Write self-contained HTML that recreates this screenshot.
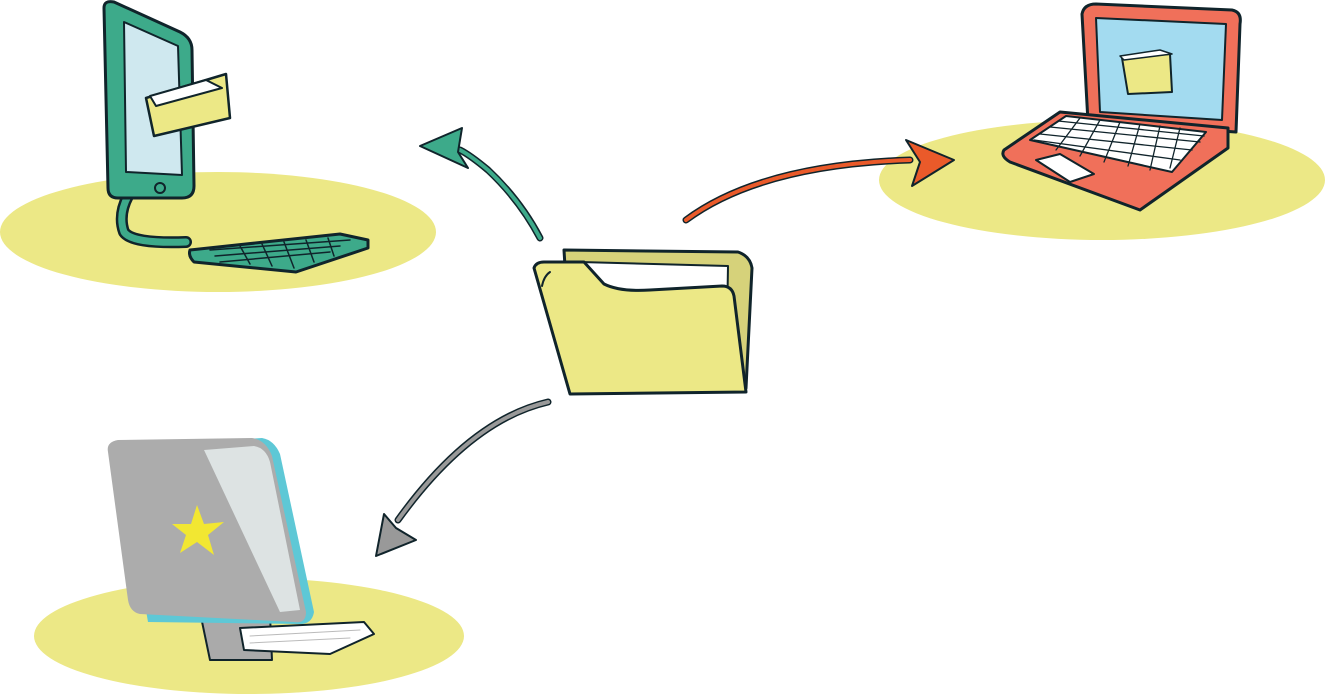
<!DOCTYPE html>
<html><head><meta charset="utf-8"><style>
html,body{margin:0;padding:0;background:#fff;width:1325px;height:695px;overflow:hidden}
svg{display:block}
</style></head><body>
<svg width="1325" height="695" viewBox="0 0 1325 695" xmlns="http://www.w3.org/2000/svg">
<g stroke-linejoin="round" stroke-linecap="round">
<ellipse cx="218" cy="232" rx="218" ry="60" fill="#ece886"/>
<ellipse cx="1102" cy="180" rx="223" ry="60" fill="#ece886"/>
<ellipse cx="249" cy="636" rx="215" ry="58" fill="#ece886"/>

<!-- green monitor stand (curved pole) -->
<path d="M128 196 Q118 215 124 232 Q132 244 186 242" fill="none" stroke="#10242b" stroke-width="12"/>
<path d="M128 196 Q118 215 124 232 Q132 244 186 242" fill="none" stroke="#3daa8a" stroke-width="7"/>
<path d="M190 250 L340 234 L368 240 L368 248 L296 272 L194 262 Q188 256 190 250 Z" fill="#3daa8a" stroke="#10242b" stroke-width="3"/>
<g stroke="#10242b" stroke-width="1.5">
<line x1="210" y1="250" x2="350" y2="240"/><line x1="215" y1="256" x2="340" y2="246"/><line x1="220" y1="262" x2="330" y2="252"/>
<line x1="240" y1="246" x2="250" y2="264"/><line x1="262" y1="244" x2="272" y2="266"/><line x1="284" y1="242" x2="294" y2="268"/><line x1="306" y1="240" x2="314" y2="262"/><line x1="328" y1="238" x2="334" y2="256"/>
</g>
<path d="M104 8 Q104 0 114 2 L180 32 Q192 38 192 50 L194 186 Q194 198 182 198 L118 198 Q108 198 108 188 Z" fill="#3daa8a" stroke="#10242b" stroke-width="3"/>
<path d="M124 22 L178 46 L182 175 L126 172 Z" fill="#cfe8ef" stroke="#10242b" stroke-width="2"/>
<circle cx="160" cy="188" r="5" fill="none" stroke="#10242b" stroke-width="2"/>
<path d="M146 98 L226 74 L230 118 L154 136 Z" fill="#ece886" stroke="#10242b" stroke-width="2.5"/>
<path d="M150 96 L206 80 L222 88 L156 106 Z" fill="#fff" stroke="#10242b" stroke-width="2"/>

<!-- red laptop -->
<path d="M1082 14 Q1084 4 1096 4 L1232 10 Q1242 12 1240 24 L1236 132 L1088 122 Z" fill="#f0705a" stroke="#10242b" stroke-width="3"/>
<path d="M1096 18 L1226 24 L1222 120 L1100 112 Z" fill="#a3dbf0" stroke="#10242b" stroke-width="2"/>
<path d="M1122 58 L1170 54 L1172 92 L1128 94 Z" fill="#ece886" stroke="#10242b" stroke-width="2"/>
<path d="M1120 56 L1160 50 L1172 54 L1124 60 Z" fill="#fff" stroke="#10242b" stroke-width="1.5"/>
<path d="M1004 150 L1060 112 L1228 128 L1228 148 L1140 210 L1010 162 Q1000 156 1004 150 Z" fill="#f0705a" stroke="#10242b" stroke-width="3"/>
<path d="M1030 140 L1066 116 L1206 132 L1172 172 Z" fill="#fff" stroke="#10242b" stroke-width="2"/>
<g stroke="#10242b" stroke-width="1.3">
<line x1="1040" y1="134" x2="1192" y2="150"/><line x1="1050" y1="127" x2="1200" y2="142"/><line x1="1058" y1="121" x2="1204" y2="136"/><line x1="1034" y1="140" x2="1180" y2="160"/>
<line x1="1080" y1="118" x2="1056" y2="150"/><line x1="1100" y1="120" x2="1080" y2="156"/><line x1="1120" y1="122" x2="1104" y2="162"/><line x1="1140" y1="124" x2="1128" y2="166"/><line x1="1160" y1="126" x2="1150" y2="170"/><line x1="1180" y1="128" x2="1170" y2="168"/>
</g>
<path d="M1036 160 L1060 154 L1094 174 L1070 182 Z" fill="#fff" stroke="#10242b" stroke-width="2"/>

<!-- gray iMac -->
<path d="M200 612 L210 660 L272 660 L270 615 Z" fill="#aaa" stroke="#10242b" stroke-width="2"/>
<path d="M240 628 L364 622 L374 634 L330 654 L244 650 Z" fill="#fff" stroke="#10242b" stroke-width="2"/>
<g stroke="#bbb" stroke-width="1"><line x1="250" y1="636" x2="360" y2="630"/><line x1="250" y1="643" x2="350" y2="638"/></g>
<path d="M118 446 L262 438 Q274 440 280 454 L314 612 Q312 624 300 624 L148 622 Z" fill="#5ec8d6"/>
<path d="M108 452 Q106 442 118 440 L252 438 Q266 440 272 456 L306 612 Q306 624 294 622 L140 614 Q130 612 128 600 Z" fill="#acacac"/>
<path d="M204 450 L254 446 Q266 448 270 462 L300 610 L280 612 Z" fill="#dde3e3"/>
<polygon points="197,505 204,524 224,522 208,535 214,555 197,542 180,553 186,535 172,524 191,524" fill="#f2e732"/>

<!-- central folder -->
<path d="M564 250 L738 252 Q750 256 752 268 L746 388 L572 382 Z" fill="#d6d27a" stroke="#10242b" stroke-width="3"/>
<path d="M580 262 L728 266 L726 380 L584 376 Z" fill="#fff" stroke="#10242b" stroke-width="2"/>
<path d="M534 268 Q536 262 544 262 L584 262 L604 284 Q620 292 650 290 L722 286 Q732 286 734 296 L746 392 L570 394 Z" fill="#ece886" stroke="#10242b" stroke-width="3"/>
<path d="M542 286 Q544 276 550 272" fill="none" stroke="#10242b" stroke-width="2"/>

<!-- arrows -->
<path d="M540 238 Q520 200 488 170 Q470 155 460 150" fill="none" stroke="#10242b" stroke-width="7"/>
<path d="M540 238 Q520 200 488 170 Q470 155 460 150" fill="none" stroke="#3daa8a" stroke-width="4"/>
<path d="M420 146 L462 128 L458 152 L468 168 Z" fill="#3daa8a" stroke="#10242b" stroke-width="2"/>

<path d="M686 220 Q760 165 910 160" fill="none" stroke="#10242b" stroke-width="7"/>
<path d="M686 220 Q760 165 910 160" fill="none" stroke="#ea5a2a" stroke-width="4"/>
<path d="M906 140 L954 160 L912 186 L920 162 Z" fill="#ea5a2a" stroke="#10242b" stroke-width="2"/>

<path d="M548 402 Q470 420 398 520" fill="none" stroke="#10242b" stroke-width="7"/>
<path d="M548 402 Q470 420 398 520" fill="none" stroke="#999" stroke-width="4"/>
<path d="M384 514 L396 528 L416 540 L376 556 Z" fill="#999" stroke="#10242b" stroke-width="2"/>
</g>
</svg>
</body></html>
